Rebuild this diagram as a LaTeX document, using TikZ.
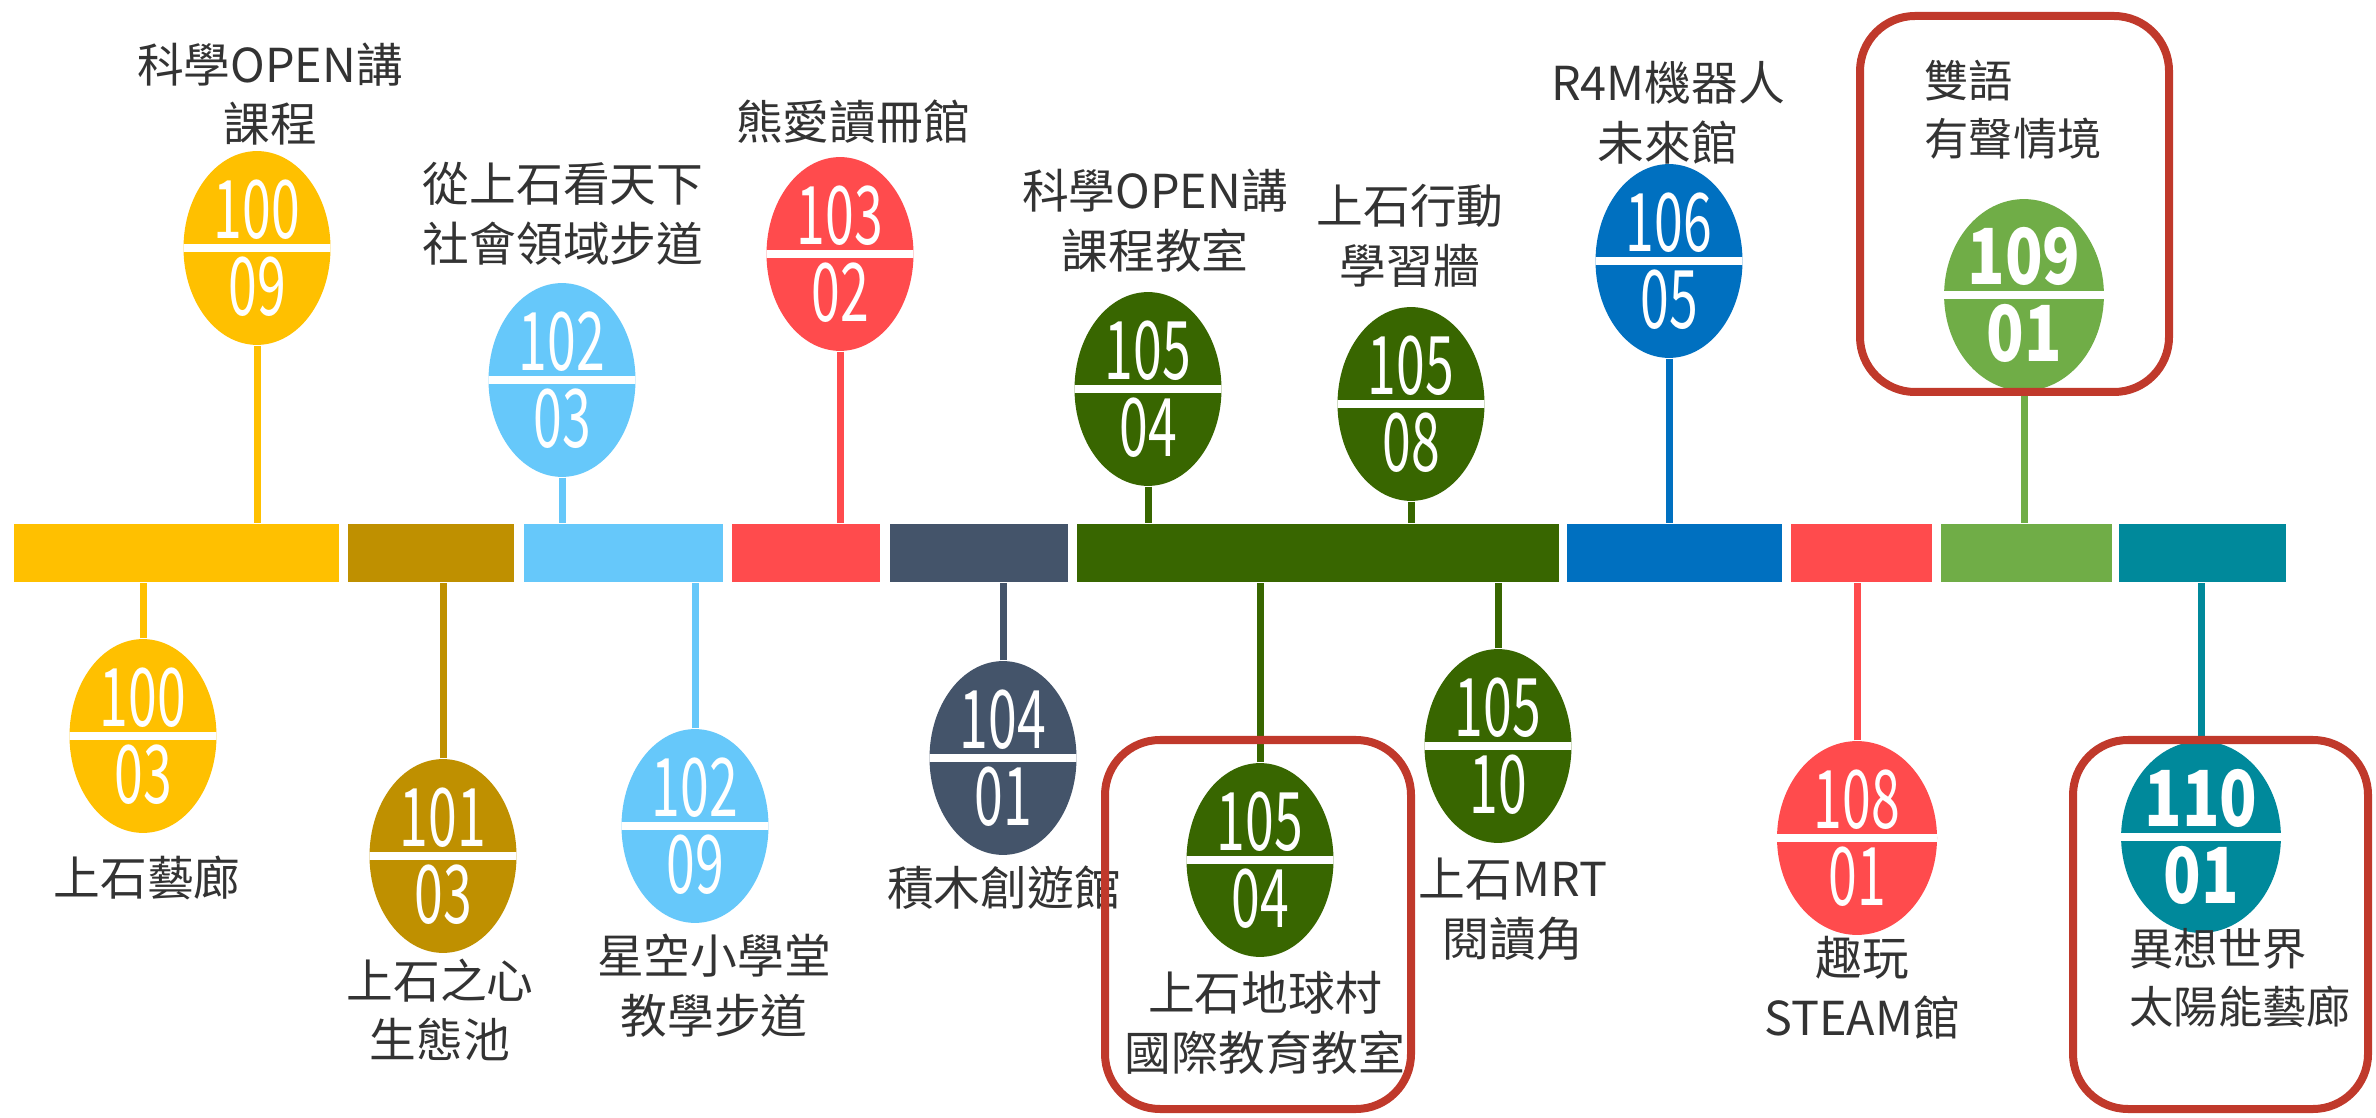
\documentclass[tikz,border=0pt]{standalone}
\usepackage{fontspec}
\setmainfont{Noto Sans CJK TC}
\newfontfamily\numfont[FakeStretch=0.64]{Noto Sans CJK TC}
\newfontfamily\boldnum[FakeStretch=0.8]{Noto Sans CJK TC}
\usetikzlibrary{shapes.geometric}

\definecolor{gold}{HTML}{FFC000}
\definecolor{darkgold}{HTML}{BF9000}
\definecolor{skyblue}{HTML}{66C8FA}
\definecolor{coral}{HTML}{FF4B4D}
\definecolor{slate}{HTML}{44546A}
\definecolor{forest}{HTML}{386600}
\definecolor{ocean}{HTML}{0070C0}
\definecolor{leaf}{HTML}{70AD47}
\definecolor{petrol}{HTML}{00899B}
\definecolor{boxred}{HTML}{C0392B}

\begin{document}
\begin{tikzpicture}[
            barpart/.style={fill=#1, minimum height=0.58cm, inner sep=0pt, anchor=west},
            datedot/.style={ellipse, fill=#1, minimum width=1.47cm, minimum height=1.57cm, inner sep=0pt,
                text=white, align=center, font=\numfont\fontsize{23}{22}\selectfont,
                path picture={\draw[white, line width=0.08cm] ([xshift=-2mm]path picture bounding box.west) -- ([xshift=2mm]path picture bounding box.east);}},
            pole/.style={draw=#1, line width=0.07cm},
            spot/.style={text=black!80, align=center, font=\fontsize{13.3}{17}\selectfont},
            hilite/.style={draw=boxred, line width=0.08cm, rounded corners=0.55cm}
        ]
            \path[fill=white] (0,0) rectangle (23.76,-11.18);

            \node[barpart=gold, minimum width=3.25cm] (bar1) at (0.13,-5.53) {};
            \node[barpart=darkgold, minimum width=1.66cm] (bar2) at (3.47,-5.53) {};
            \node[barpart=skyblue, minimum width=1.99cm] (bar3) at (5.23,-5.53) {};
            \node[barpart=coral, minimum width=1.48cm] (bar4) at (7.31,-5.53) {};
            \node[barpart=slate, minimum width=1.78cm] (bar5) at (8.89,-5.53) {};
            \node[barpart=forest, minimum width=4.82cm] (bar6) at (10.76,-5.53) {};
            \node[barpart=ocean, minimum width=2.15cm] (bar7) at (15.66,-5.53) {};
            \node[barpart=coral, minimum width=1.41cm] (bar8) at (17.90,-5.53) {};
            \node[barpart=leaf, minimum width=1.71cm] (bar9) at (19.40,-5.53) {};
            \node[barpart=petrol, minimum width=1.67cm] (bar10) at (21.18,-5.53) {};

            \node[datedot=gold] (d1) at (2.57,-2.48) {100\\09};
            \node[datedot=gold] (d2) at (1.43,-7.36) {100\\03};
            \node[datedot=darkgold] (d3) at (4.43,-8.56) {101\\03};
            \node[datedot=skyblue] (d4) at (5.62,-3.80) {102\\03};
            \node[datedot=skyblue] (d5) at (6.95,-8.26) {102\\09};
            \node[datedot=coral] (d6) at (8.40,-2.54) {103\\02};
            \node[datedot=slate] (d7) at (10.03,-7.58) {104\\01};
            \node[datedot=forest] (d8) at (11.48,-3.89) {105\\04};
            \node[datedot=forest] (d9) at (14.11,-4.04) {105\\08};
            \node[datedot=forest] (d10) at (12.60,-8.60) {105\\04};
            \node[datedot=forest] (d11) at (14.98,-7.46) {105\\10};
            \node[datedot=ocean] (d12) at (16.69,-2.61) {106\\05};
            \node[datedot=coral, minimum width=1.60cm] (d13) at (18.57,-8.38) {108\\01};
            \node[datedot=leaf, font=\boldnum\bfseries\fontsize{22}{22}\selectfont] (d14) at (20.24,-2.95) {109\\01};
            \node[datedot=petrol, minimum width=1.59cm, minimum height=1.53cm, font=\boldnum\bfseries\fontsize{22}{22}\selectfont] (d15) at (22.01,-8.37) {110\\01};

            \draw[pole=gold] (d1) -- (d1 |- bar1.north);
            \draw[pole=gold] (d2) -- (d2 |- bar1.south);
            \draw[pole=darkgold] (d3) -- (d3 |- bar2.south);
            \draw[pole=skyblue] (d4) -- (d4 |- bar3.north);
            \draw[pole=skyblue] (d5) -- (d5 |- bar3.south);
            \draw[pole=coral] (d6) -- (d6 |- bar4.north);
            \draw[pole=slate] (d7) -- (d7 |- bar5.south);
            \draw[pole=forest] (d8) -- (d8 |- bar6.north);
            \draw[pole=forest] (d9) -- (d9 |- bar6.north);
            \draw[pole=forest] (d10) -- (d10 |- bar6.south);
            \draw[pole=forest] (d11) -- (d11 |- bar6.south);
            \draw[pole=ocean] (d12) -- (d12 |- bar7.north);
            \draw[pole=coral] (d13) -- (d13 |- bar8.south);
            \draw[pole=leaf] (d14) -- (d14 |- bar9.north);
            \draw[pole=petrol] (d15) -- (d15 |- bar10.south);

            \node[spot] (t1) at (2.70,-0.94) {科學OPEN講\\課程};
            \node[spot] (t4) at (5.63,-2.14) {從上石看天下\\社會領域步道};
            \node[spot] (t6) at (8.53,-1.22) {熊愛讀冊館};
            \node[spot] (t8) at (11.55,-2.21) {科學OPEN講\\課程教室};
            \node[spot] (t9) at (14.10,-2.36) {上石行動\\學習牆};
            \node[spot] (t12) at (16.68,-1.13) {R4M機器人\\未來館};
            \node[spot, anchor=west, align=left, font=\fontsize{12.6}{16.5}\selectfont] (t14) at (19.12,-1.10) {雙語\\有聲情境};
            \node[spot] (t2) at (1.47,-8.78) {上石藝廊};
            \node[spot] (t3) at (4.40,-10.10) {上石之心\\生態池};
            \node[spot] (t5) at (7.14,-9.86) {星空小學堂\\教學步道};
            \node[spot] (t7) at (10.04,-8.88) {積木創遊館};
            \node[spot] (t10) at (12.65,-10.23) {上石地球村\\國際教育教室};
            \node[spot] (t11) at (15.13,-9.09) {上石MRT\\閱讀角};
            \node[spot] (t13) at (18.62,-9.88) {趣玩\\STEAM館};
            \node[spot, anchor=west, align=left, font=\fontsize{12.6}{16.5}\selectfont] (t15) at (21.17,-9.78) {異想世界\\太陽能藝廊};

            \draw[hilite] (18.60,-0.16) rectangle (21.69,-3.92);
            \draw[hilite] (11.05,-7.40) rectangle (14.11,-11.09);
            \draw[hilite] (20.73,-7.40) rectangle (23.68,-11.09);
        \end{tikzpicture}
\end{document}
